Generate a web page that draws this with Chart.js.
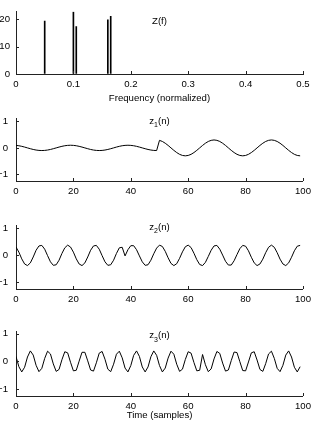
<!DOCTYPE html>
<html>
<head>
<meta charset="utf-8">
<script src="https://cdn.jsdelivr.net/npm/chart.js@4.4.0/dist/chart.umd.min.js"></script>
<style>
  body { margin: 0; background: #fff; }
  #wrap { position: relative; width: 316px; height: 428px; }
  canvas { position: absolute; left: 0; }
</style>
</head>
<body>
<div id="wrap">
  <canvas id="c0" width="316" height="105" style="top:0px"></canvas>
  <canvas id="c1" width="316" height="100" style="top:105px"></canvas>
  <canvas id="c2" width="316" height="100" style="top:212px"></canvas>
  <canvas id="c3" width="316" height="111" style="top:317px"></canvas>
</div>
<script>
// spectrum peaks
const freqs = [0.05, 0.1, 0.105, 0.16, 0.165];
const mags = [19.3, 22.7, 17.3, 19.8, 21.0];
const freqTicks = [0, 0.1, 0.2, 0.3, 0.4, 0.5];
const magTicks = [0, 10, 20];

// time signals (n = 0..99)
const z1 = [
  0.095, 0.081, 0.059, 0.031, 0, -0.031, -0.059, -0.081, -0.095, -0.1,
  -0.095, -0.081, -0.059, -0.031, 0, 0.031, 0.059, 0.081, 0.095, 0.1,
  0.095, 0.081, 0.059, 0.031, 0, -0.031, -0.059, -0.081, -0.095, -0.1,
  -0.095, -0.081, -0.059, -0.031, 0, 0.031, 0.059, 0.081, 0.095, 0.1,
  0.095, 0.081, 0.059, 0.031, 0, -0.031, -0.059, -0.081, -0.095, -0.1,
  0.285, 0.243, 0.176, 0.093, 0, -0.093, -0.176, -0.243, -0.285, -0.3,
  -0.285, -0.243, -0.176, -0.093, 0, 0.093, 0.176, 0.243, 0.285, 0.3,
  0.285, 0.243, 0.176, 0.093, 0, -0.093, -0.176, -0.243, -0.285, -0.3,
  -0.285, -0.243, -0.176, -0.093, 0, 0.093, 0.176, 0.243, 0.285, 0.3,
  0.285, 0.243, 0.176, 0.093, 0, -0.093, -0.176, -0.243, -0.285, -0.3
];
const z2 = [
  0.31, 0.12, -0.13, -0.32, -0.38, -0.28, -0.06, 0.19, 0.35, 0.37,
  0.23, -0.01, -0.24, -0.37, -0.35, -0.18, 0.07, 0.28, 0.38, 0.31,
  0.12, -0.13, -0.32, -0.38, -0.28, -0.06, 0.19, 0.35, 0.37, 0.23,
  -0.01, -0.24, -0.37, -0.35, -0.18, 0.07, 0.28, 0.30, -0.02, 0.21,
  0.36, 0.36, 0.21, -0.02, -0.24, -0.37, -0.35, -0.18, 0.06, 0.27,
  0.38, 0.33, 0.15, -0.09, -0.30, -0.38, -0.31, -0.11, 0.13, 0.32,
  0.38, 0.29, 0.08, -0.16, -0.34, -0.38, -0.26, -0.04, 0.19, 0.35,
  0.37, 0.23, 0.01, -0.22, -0.36, -0.36, -0.20, 0.03, 0.25, 0.37,
  0.34, 0.17, -0.07, -0.28, -0.38, -0.32, -0.14, 0.10, 0.30, 0.38,
  0.30, 0.10, -0.14, -0.32, -0.38, -0.28, -0.07, 0.17, 0.34, 0.37
];
const z3 = [
  0.18, -0.19, -0.38, -0.21, 0.16, 0.38, 0.23, -0.14, -0.37, -0.25,
  0.11, 0.37, 0.27, -0.09, -0.36, -0.29, 0.06, 0.35, 0.31, -0.03,
  -0.34, -0.32, 0.01, 0.33, 0.33, 0.02, -0.31, -0.35, -0.05, 0.30,
  0.36, 0.08, -0.28, -0.37, -0.10, 0.26, 0.37, 0.13, -0.24, -0.38,
  -0.15, 0.22, 0.38, 0.18, -0.20, -0.38, -0.20, 0.17, 0.38, 0.22,
  -0.15, -0.38, -0.24, 0.12, 0.37, 0.26, -0.10, -0.36, -0.28, 0.07,
  0.35, 0.30, -0.04, -0.34, -0.32, 0.25, -0.12, -0.37, -0.27, 0.09,
  0.36, 0.29, -0.06, -0.35, -0.31, 0.03, 0.34, 0.32, -0.01, -0.33,
  -0.34, -0.02, 0.31, 0.35, 0.05, -0.29, -0.36, -0.08, 0.27, 0.37,
  0.11, -0.25, -0.37, -0.14, 0.23, 0.38, 0.16, -0.21, -0.38, -0.19
];
const sampleIdx = z1.map((v, i) => i);
const timeTicks = [0, 20, 40, 60, 80, 100];
const ampTicks = [-1, 0, 1];

const FONT = 'Liberation Sans';
Chart.defaults.font.family = FONT;
Chart.defaults.font.size = 9.6;
Chart.defaults.color = '#000';

// MATLAB style ticks pointing into the axes
const inTicks = {
  id: 'inTicks',
  afterDraw(chart) {
    const { ctx, chartArea, scales } = chart;
    ctx.save();
    ctx.strokeStyle = '#222';
    ctx.lineWidth = 1;
    ctx.beginPath();
    scales.x.ticks.forEach(t => {
      const px = Math.round(scales.x.getPixelForValue(t.value)) + 0.5;
      ctx.moveTo(px, chartArea.bottom);
      ctx.lineTo(px, chartArea.bottom - 3);
    });
    scales.y.ticks.forEach(t => {
      const py = Math.round(scales.y.getPixelForValue(t.value)) + 0.5;
      ctx.moveTo(chartArea.left, py);
      ctx.lineTo(chartArea.left + 3, py);
    });
    ctx.stroke();
    ctx.restore();
  }
};

// panel title with optional subscript, e.g. z_1(n)
const panelLabel = {
  id: 'panelLabel',
  afterDraw(chart, args, opts) {
    if (!opts.main) return;
    const { ctx, chartArea } = chart;
    const big = '9.6px "' + FONT + '"';
    const small = '7px "' + FONT + '"';
    ctx.save();
    ctx.fillStyle = '#000';
    ctx.textBaseline = 'alphabetic';
    ctx.font = big;
    const w1 = ctx.measureText(opts.main).width;
    const w3 = ctx.measureText(opts.rest || '').width;
    ctx.font = small;
    const w2 = opts.sub ? ctx.measureText(opts.sub).width : 0;
    let x = (chartArea.left + chartArea.right) / 2 - (w1 + w2 + w3) / 2;
    const y = chartArea.top + opts.dy;
    ctx.font = big;
    ctx.fillText(opts.main, x, y);
    x += w1;
    if (opts.sub) {
      ctx.font = small;
      ctx.fillText(opts.sub, x, y + 3.5);
      x += w2;
    }
    ctx.font = big;
    if (opts.rest) ctx.fillText(opts.rest, x, y);
    ctx.restore();
  }
};

function fmt(v) {
  return v < 0 ? '\u2212' + String(-v) : String(v);
}

function makeScales(p) {
  return {
    x: {
      type: 'linear',
      min: p.xmin, max: p.xmax,
      offset: false,
      afterFit: s => { s.height = p.xh; },
      afterBuildTicks: s => { s.ticks = p.xticks.map(v => ({ value: v })); },
      grid: { display: true, drawOnChartArea: false, drawTicks: false, offset: false },
      border: { display: true, color: '#222', width: 1 },
      ticks: { padding: 5, maxRotation: 0, callback: v => fmt(v) },
      title: {
        display: !!p.xtitle, text: p.xtitle || '',
        padding: { top: 0, bottom: p.titlePad || 0 },
        font: { size: 9.6 }
      }
    },
    y: {
      type: 'linear',
      min: p.ymin, max: p.ymax,
      afterFit: s => { s.width = 16; },
      afterBuildTicks: s => { s.ticks = p.yticks.map(v => ({ value: v })); },
      grid: { display: true, drawOnChartArea: false, drawTicks: false },
      border: { display: true, color: '#222', width: 1 },
      ticks: { padding: p.ypad, callback: v => fmt(v) }
    }
  };
}

function baseOptions(p) {
  return {
    responsive: false,
    animation: false,
    devicePixelRatio: 1,
    layout: { padding: { left: 0, right: 13, top: p.top, bottom: 0 } },
    scales: makeScales(p),
    plugins: {
      legend: { display: false },
      tooltip: { enabled: false },
      panelLabel: p.label
    }
  };
}

// spectrum
new Chart(document.getElementById('c0'), {
  type: 'bar',
  data: {
    datasets: [{
      data: freqs.map((f, i) => ({ x: f, y: mags[i] })),
      backgroundColor: '#000',
      barThickness: 1
    }]
  },
  options: baseOptions({
    top: 6, xh: 31, xmin: 0, xmax: 0.5, ymin: 0, ymax: 22.7,
    xticks: freqTicks, yticks: magTicks, ypad: 6,
    xtitle: 'Frequency (normalized)', titlePad: 1,
    label: { main: 'Z(f)', dy: 12 }
  }),
  plugins: [inTicks, panelLabel]
});

function signalChart(id, values, p) {
  return new Chart(document.getElementById(id), {
    type: 'scatter',
    data: {
      datasets: [{
        data: sampleIdx.map((n, i) => ({ x: n, y: values[i] })),
        showLine: true,
        borderColor: '#000',
        borderWidth: 1,
        pointRadius: 0,
        tension: 0
      }]
    },
    options: baseOptions(Object.assign({
      xmin: 0, xmax: 100, ymin: -1.25, ymax: 1.1,
      xticks: timeTicks, yticks: ampTicks, ypad: 8
    }, p)),
    plugins: [inTicks, panelLabel]
  });
}

signalChart('c1', z1, { top: 13, xh: 24, label: { main: 'z', sub: '1', rest: '(n)', dy: 5 } });
signalChart('c2', z2, { top: 13, xh: 23, label: { main: 'z', sub: '2', rest: '(n)', dy: 4 } });
signalChart('c3', z3, { top: 14, xh: 32, xtitle: 'Time (samples)', titlePad: 7,
  label: { main: 'z', sub: '3', rest: '(n)', dy: 7 } });
</script>
</body>
</html>
